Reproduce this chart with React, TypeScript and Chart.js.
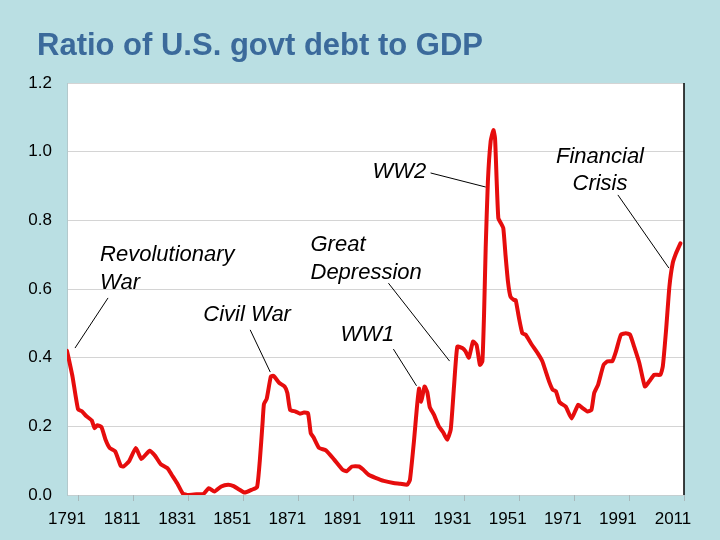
import React, { useEffect, useRef } from "react";
import { Chart, registerables } from "chart.js";

Chart.register(...registerables);

// ---- data ----
const years = [
  1791, 1793, 1795, 1796.5, 1798, 1800, 1801, 1802, 1803.5, 1805, 1806.5, 1808.5, 1810.5, 1811.5, 1813.5, 1816,
  1818, 1821, 1823, 1825, 1827.5, 1829, 1831, 1833, 1835, 1838, 1840.5, 1842.5, 1844.5, 1847, 1849.5, 1851.5,
  1853.5, 1855.5, 1858, 1860, 1861, 1862, 1862.5, 1863.5, 1865, 1866, 1868, 1870, 1871, 1872, 1874, 1875.5,
  1877, 1878.5, 1879.5, 1880.5, 1882.5, 1885, 1888, 1891, 1892.5, 1894.5, 1897, 1898.5, 1900.5, 1903, 1906,
  1909.5, 1912, 1914.5, 1915.5, 1917, 1918, 1918.8, 1919.6, 1920.8, 1921.8, 1922.7, 1924.2, 1926, 1927.6, 1929,
  1930.3, 1931.5, 1932.7, 1934.5, 1935.7, 1936.9, 1938.4, 1939.7, 1940.9, 1941.8, 1942.4, 1943, 1943.8, 1944.8,
  1945.8, 1946.4, 1947, 1947.6, 1948.5, 1949.4, 1950.2, 1951.1, 1952, 1953.3, 1953.9, 1955.1, 1956.3, 1957.5,
  1959.4, 1961.8, 1963.6, 1964.8, 1966, 1967.3, 1968.5, 1969.7, 1970.3, 1972.1, 1974.2, 1976.6, 1978.2, 1980,
  1981.4, 1982.4, 1983.8, 1985.8, 1987.2, 1989, 1990.3, 1992.1, 1993.9, 1995.4, 1996.9, 1998.8, 2000.8, 2002.4,
  2004.2, 2006.4, 2007.3, 2008.5, 2009.7, 2010.9, 2012.1, 2013.7,
];
const debtRatio = [
  0.42, 0.345, 0.25, 0.243, 0.23, 0.217, 0.195, 0.203, 0.198, 0.161, 0.137, 0.127, 0.085, 0.083, 0.098, 0.137,
  0.105, 0.129, 0.114, 0.09, 0.078, 0.059, 0.034, 0.005, 0.0, 0.002, 0.003, 0.02, 0.01, 0.025, 0.03, 0.026,
  0.016, 0.007, 0.015, 0.023, 0.1, 0.21, 0.265, 0.28, 0.345, 0.347, 0.327, 0.316, 0.297, 0.248, 0.243, 0.237,
  0.24, 0.238, 0.18, 0.168, 0.137, 0.13, 0.103, 0.074, 0.069, 0.083, 0.083, 0.074, 0.059, 0.05, 0.041,
  0.035, 0.033, 0.03, 0.044, 0.16, 0.252, 0.31, 0.272, 0.316, 0.3, 0.256, 0.234, 0.2, 0.182, 0.161,
  0.19, 0.316, 0.432, 0.428, 0.418, 0.4, 0.447, 0.437, 0.379, 0.389, 0.524, 0.719, 0.913, 1.03,
  1.063, 1.039, 0.913, 0.806, 0.792, 0.777, 0.699, 0.621, 0.578, 0.568, 0.568, 0.515, 0.471, 0.467,
  0.442, 0.414, 0.389, 0.36, 0.331, 0.307, 0.302, 0.272, 0.267, 0.257, 0.223, 0.263, 0.253, 0.243,
  0.248, 0.297, 0.321, 0.379, 0.389, 0.39, 0.418, 0.467, 0.471, 0.467, 0.432, 0.384, 0.316, 0.331,
  0.35, 0.35, 0.374, 0.481, 0.607, 0.675, 0.704, 0.733,
];
const xLabelYears = [1791, 1811, 1831, 1851, 1871, 1891, 1911, 1931, 1951, 1971, 1991, 2011];
const tickMarkYears = [1795, 1815, 1835, 1855, 1875, 1895, 1915, 1935, 1955, 1975, 1995, 2015];
const yTickValues = [0, 0.2, 0.4, 0.6, 0.8, 1.0, 1.2];

const chartTitle = "Ratio of U.S. govt debt to GDP";

// annotation labels (data coordinates)
const noteTexts = ["Revolutionary", "War", "Civil War", "Great", "Depression", "WW1", "WW2", "Financial", "Crisis"];
const noteYears = [1803, 1803, 1840.5, 1879.4, 1879.4, 1890.3, 1901.9, 1984.5, 1984.5];
const noteValues = [0.699, 0.618, 0.524, 0.728, 0.647, 0.466, 0.941, 0.985, 0.906];
const noteAligns = ["left", "left", "left", "left", "left", "left", "left", "center", "center"];

// leader lines (data coordinates)
const leaderFromYears = [1793.9, 1857.5, 1909.5, 1907.7, 1923, 1991];
const leaderFromValues = [0.428, 0.481, 0.425, 0.617, 0.938, 0.874];
const leaderToYears = [1805.9, 1864.8, 1917.9, 1929.9, 1943, 2009.5];
const leaderToValues = [0.574, 0.358, 0.318, 0.39, 0.897, 0.661];

const BG = "#badfe3";
const FONT = "'Liberation Sans', Arial, sans-serif";

const decorPlugin = {
  id: "decor",
  beforeDraw(chart: any) {
    const { ctx, chartArea } = chart;
    ctx.save();
    ctx.fillStyle = BG;
    ctx.fillRect(0, 0, chart.width, chart.height);
    ctx.fillStyle = "#ffffff";
    ctx.fillRect(chartArea.left, chartArea.top, chartArea.right - chartArea.left, chartArea.bottom - chartArea.top);
    // title
    ctx.fillStyle = "#3b6a9b";
    ctx.font = `bold 31px ${FONT}`;
    ctx.textAlign = "left";
    ctx.textBaseline = "alphabetic";
    ctx.fillText(chartTitle, 37, 55);
    ctx.restore();
  },
  afterDraw(chart: any) {
    const { ctx, chartArea, scales } = chart;
    const xs = scales.x;
    const ys = scales.y;
    ctx.save();
    // tick marks under x axis
    ctx.strokeStyle = "#a8b8bb";
    ctx.lineWidth = 1;
    tickMarkYears.forEach((yr) => {
      const px = Math.round(xs.getPixelForValue(yr)) + 0.5;
      ctx.beginPath();
      ctx.moveTo(px, chartArea.bottom);
      ctx.lineTo(px, chartArea.bottom + 6);
      ctx.stroke();
    });
    // right border
    ctx.strokeStyle = "#000000";
    ctx.lineWidth = 1.5;
    ctx.beginPath();
    ctx.moveTo(chartArea.right, chartArea.top);
    ctx.lineTo(chartArea.right, chartArea.bottom);
    ctx.stroke();
    // leader lines
    ctx.strokeStyle = "#000000";
    ctx.lineWidth = 1;
    leaderFromYears.forEach((_, i) => {
      ctx.beginPath();
      ctx.moveTo(xs.getPixelForValue(leaderFromYears[i]), ys.getPixelForValue(leaderFromValues[i]));
      ctx.lineTo(xs.getPixelForValue(leaderToYears[i]), ys.getPixelForValue(leaderToValues[i]));
      ctx.stroke();
    });
    // annotation text
    ctx.fillStyle = "#000000";
    ctx.font = `italic 22px ${FONT}`;
    ctx.textBaseline = "middle";
    noteTexts.forEach((t, i) => {
      ctx.textAlign = noteAligns[i] as CanvasTextAlign;
      ctx.fillText(t, xs.getPixelForValue(noteYears[i]), ys.getPixelForValue(noteValues[i]));
    });
    ctx.restore();
  },
};

export default function App() {
  const ref = useRef<HTMLCanvasElement | null>(null);

  useEffect(() => {
    document.body.style.margin = "0";
    document.body.style.background = BG;
    const canvas = ref.current;
    if (!canvas) return;
    const chart = new Chart(canvas, {
      type: "line",
      data: {
        datasets: [
          {
            label: "Debt / GDP",
            data: years.map((y, i) => ({ x: y, y: debtRatio[i] })),
            borderColor: "#e60d0d",
            borderWidth: 4,
            pointRadius: 0,
            tension: 0.15,
            borderJoinStyle: "round",
            borderCapStyle: "round",
            fill: false,
          },
        ],
      },
      options: {
        animation: false,
        responsive: false,
        devicePixelRatio: 1,
        layout: { padding: { top: 83, right: 36, left: 0, bottom: 0 } },
        plugins: {
          legend: { display: false },
          tooltip: { enabled: false },
          title: { display: false },
        },
        scales: {
          x: {
            type: "linear",
            min: 1791,
            max: 2015,
            afterBuildTicks: (scale: any) => {
              scale.ticks = xLabelYears.map((v) => ({ value: v }));
            },
            afterFit: (scale: any) => {
              scale.height = 45;
            },
            grid: { display: false, drawTicks: false },
            border: { display: true, color: "#c4cfd1", width: 1 },
            ticks: {
              color: "#000000",
              font: { family: FONT, size: 17 },
              padding: 14,
              maxRotation: 0,
              autoSkip: false,
              callback: (v: any) => String(v),
            },
          },
          y: {
            type: "linear",
            min: 0,
            max: 1.2,
            afterBuildTicks: (scale: any) => {
              scale.ticks = yTickValues.map((v) => ({ value: v }));
            },
            afterFit: (scale: any) => {
              scale.width = 67;
            },
            grid: { color: "#d4d4d4", lineWidth: 1, drawTicks: false },
            border: { display: true, color: "#b3c9cc", width: 1 },
            ticks: {
              color: "#000000",
              font: { family: FONT, size: 17 },
              padding: 15,
              callback: (v: any) => Number(v).toFixed(1),
            },
          },
        },
      },
      plugins: [decorPlugin],
    });
    return () => chart.destroy();
  }, []);

  return (
    <div style={{ width: 720, height: 540, background: BG }}>
      <canvas ref={ref} width={720} height={540} style={{ display: "block" }} />
    </div>
  );
}
